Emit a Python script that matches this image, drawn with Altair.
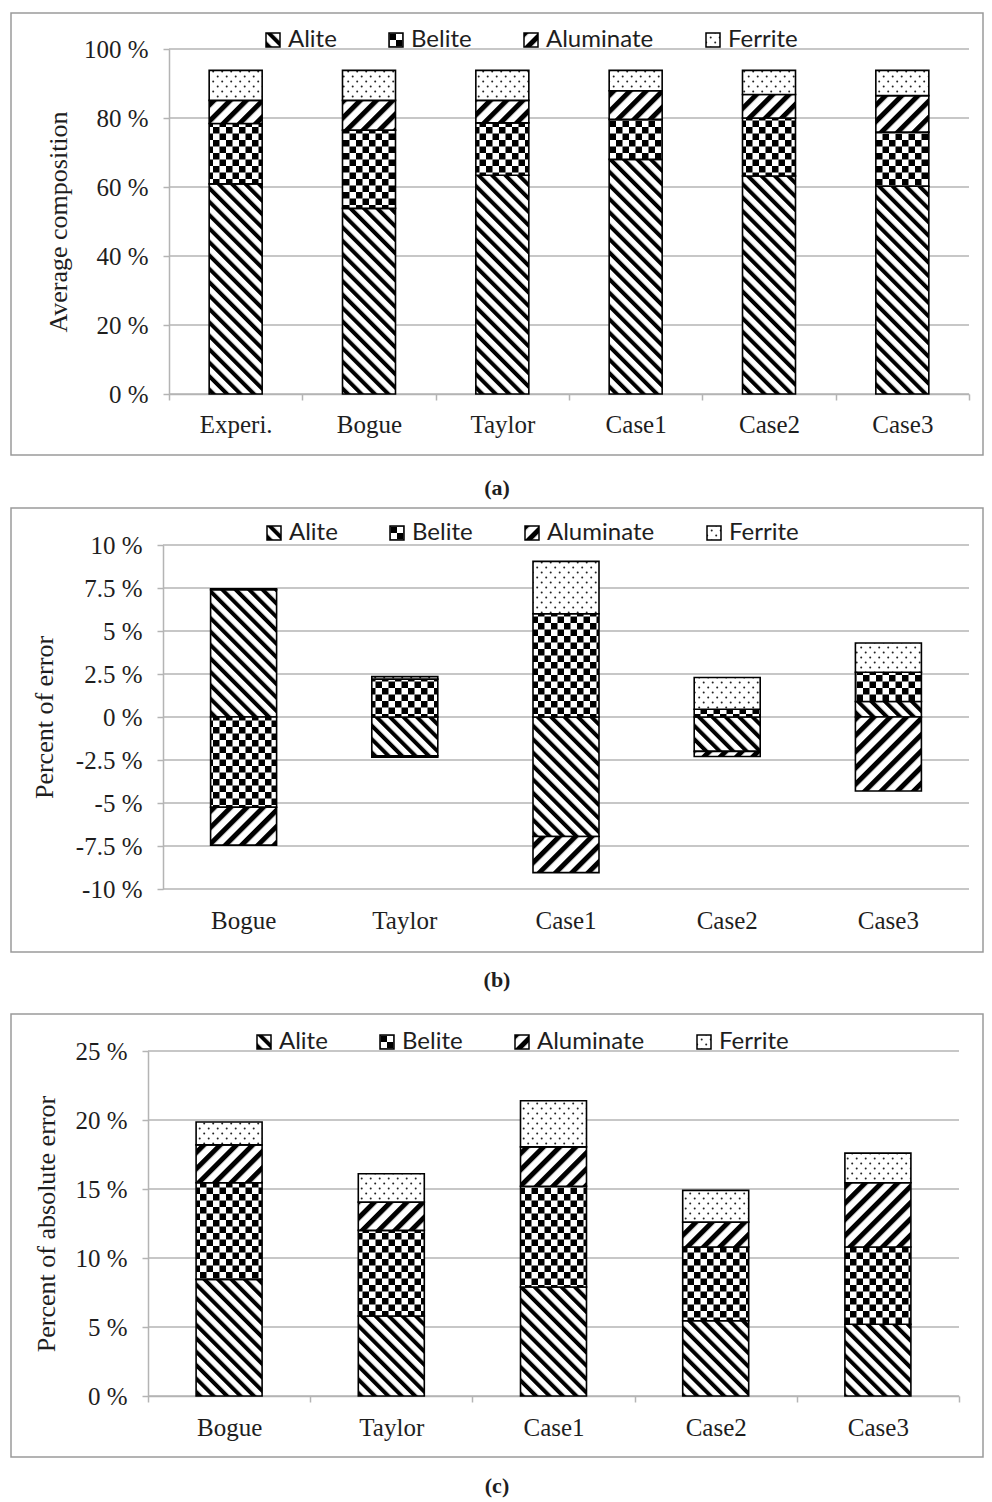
import altair as alt
import pandas as pd

# ---------------- data ----------------
components = ["Alite", "Belite", "Aluminate", "Ferrite"]

cats_a = ["Experi.", "Bogue", "Taylor", "Case1", "Case2", "Case3"]
alite_a = [60.9, 53.8, 63.4, 68.0, 63.2, 60.2]
belite_a = [17.5, 22.7, 15.2, 11.6, 16.8, 15.7]
aluminate_a = [6.7, 8.6, 6.5, 8.3, 6.8, 10.6]
ferrite_a = [8.7, 8.7, 8.7, 5.9, 7.0, 7.3]

cats_bc = ["Bogue", "Taylor", "Case1", "Case2", "Case3"]
alite_b = [7.4, -2.25, -6.95, -2.0, 0.9]
belite_b = [-5.25, 2.2, 6.0, 0.45, 1.7]
aluminate_b = [-2.2, -0.08, -2.1, -0.3, -4.3]
ferrite_b = [0.05, 0.15, 3.05, 1.85, 1.7]

alite_c = [8.45, 5.8, 7.9, 5.45, 5.2]
belite_c = [7.0, 6.2, 7.3, 5.35, 5.6]
aluminate_c = [2.75, 2.05, 2.85, 1.8, 4.65]
ferrite_c = [1.65, 2.05, 3.35, 2.3, 2.15]

ticks_a = [0, 20, 40, 60, 80, 100]
ticks_b = [-10, -7.5, -5, -2.5, 0, 2.5, 5, 7.5, 10]
ticks_c = [0, 5, 10, 15, 20, 25]

# ---------------- styles ----------------
SERIF = "Liberation Serif"
SANS = "Lato"
TXT = "#1e1e1e"
GRID = "#b4b4b4"
FRAME = "#9a9a9a"
PATTERNS = ["url(#pat-alite)", "url(#pat-belite)", "url(#pat-aluminate)", "url(#pat-ferrite)"]

DEFS = """
<svg width="0" height="0" style="position:absolute;left:0;top:0" aria-hidden="true">
 <defs>
  <pattern id="pat-alite" patternUnits="userSpaceOnUse" width="9.5" height="9.5" patternTransform="rotate(-45)">
    <rect width="9.5" height="9.5" fill="#ffffff"/>
    <rect width="4" height="9.5" fill="#000000"/>
  </pattern>
  <pattern id="pat-belite" patternUnits="userSpaceOnUse" width="13" height="13">
    <rect width="13" height="13" fill="#ffffff"/>
    <rect x="0" y="0" width="6.5" height="6.5" fill="#000000"/>
    <rect x="6.5" y="6.5" width="6.5" height="6.5" fill="#000000"/>
  </pattern>
  <pattern id="pat-aluminate" patternUnits="userSpaceOnUse" width="11.5" height="11.5" patternTransform="rotate(45)">
    <rect width="11.5" height="11.5" fill="#ffffff"/>
    <rect width="5" height="11.5" fill="#000000"/>
  </pattern>
  <pattern id="pat-ferrite" patternUnits="userSpaceOnUse" width="9" height="10">
    <rect width="9" height="10" fill="#ffffff"/>
    <circle cx="2.2" cy="2.5" r="1" fill="#222222"/>
    <circle cx="6.7" cy="7.5" r="1" fill="#222222"/>
  </pattern>
 </defs>
</svg>
"""

FRAME_X = (-137, 835)   # frame left/right relative to the common plot origin


def make_panel(cats, series, ytitle, ydom, yticks, shift, plot_w, height, bar_size,
               frame_y, legend_xy, caption, title_pad, xlabel_pad, cap_offset,
               bottom_axis_line=True, cap_extra=0):
    rows = []
    for i, c in enumerate(cats):
        for k, comp in enumerate(components):
            rows.append({"cat": c, "comp": comp, "ord": k, "value": series[k][i]})
    df = pd.DataFrame(rows)
    grid_df = pd.DataFrame({"t": yticks})

    yscale = alt.Scale(domain=ydom, nice=False, zero=False)
    yaxis = alt.Axis(values=yticks, labelExpr="datum.value + ' %'", offset=-shift,
                     title=ytitle, titleFont=SERIF, titleFontSize=26,
                     titleFontWeight="normal", titleColor=TXT, titlePadding=title_pad,
                     labelFont=SERIF, labelFontSize=25, labelColor=TXT,
                     labelPadding=15, tickSize=6, tickColor=GRID, tickWidth=1.5,
                     domainColor=GRID, domainWidth=1.5, grid=False)

    frame = alt.Chart(alt.Data(values=[{"k": 1}])).mark_rect(
        fill="transparent", stroke=FRAME, strokeWidth=1.5
    ).encode(x=alt.value(FRAME_X[0]), x2=alt.value(FRAME_X[1]),
             y=alt.value(frame_y[0]), y2=alt.value(frame_y[1]))

    grid = alt.Chart(grid_df).mark_rule(color=GRID, strokeWidth=1.5).encode(
        y=alt.Y("t:Q", scale=yscale, axis=yaxis),
        x=alt.value(shift), x2=alt.value(shift + plot_w),
    )

    if bottom_axis_line:
        xaxis = alt.Axis(title=None, labelAngle=0, labelFont=SERIF, labelFontSize=25,
                         labelColor=TXT, labelPadding=xlabel_pad, tickBand="extent", tickSize=6,
                         tickColor=GRID, tickWidth=1.5, domainColor=GRID, domainWidth=1.5,
                         grid=False)
    else:
        xaxis = alt.Axis(title=None, labelAngle=0, labelFont=SERIF, labelFontSize=25,
                         labelColor=TXT, labelPadding=xlabel_pad, ticks=False, tickSize=0,
                         domain=False, grid=False)

    bars = alt.Chart(df).mark_bar(stroke="black", strokeWidth=1.6, size=bar_size).encode(
        x=alt.X("cat:N", sort=cats, axis=xaxis,
                scale=alt.Scale(range=[shift, shift + plot_w], paddingInner=0, paddingOuter=0)),
        y=alt.Y("value:Q", stack="zero", scale=yscale, axis=yaxis),
        fill=alt.Fill("comp:N", sort=components,
                      scale=alt.Scale(domain=components, range=PATTERNS),
                      legend=alt.Legend(title=None, orient="none", direction="horizontal",
                                        columns=4, legendX=legend_xy[0], legendY=legend_xy[1],
                                        padding=0, symbolType="square", symbolSize=196,
                                        symbolStrokeColor="black", symbolStrokeWidth=1.5,
                                        labelFont=SANS, labelFontSize=24, labelColor=TXT,
                                        labelOffset=3, columnPadding=47)),
        order=alt.Order("ord:Q"),
    )

    if cap_extra > 0:
        title = alt.TitleParams(caption, orient="bottom", anchor="middle", frame="bounds",
                                font=SERIF, fontSize=22, fontWeight="bold", color=TXT,
                                offset=cap_offset, subtitle=" ", subtitleFontSize=cap_extra,
                                subtitlePadding=2)
    else:
        title = alt.TitleParams(caption, orient="bottom", anchor="middle", frame="bounds",
                                font=SERIF, fontSize=22, fontWeight="bold", color=TXT,
                                offset=cap_offset)

    return alt.layer(frame, grid, bars).properties(
        width=shift + plot_w, height=height, title=title,
    )


pa = make_panel(cats_a, [alite_a, belite_a, aluminate_a, ferrite_a],
                "Average composition", [0, 100], ticks_a, 21, 800, 345, 53,
                (-36, 406), (113, -21), "(a)", 12, 12, 22)
pb = make_panel(cats_bc, [alite_b, belite_b, aluminate_b, ferrite_b],
                "Percent of error", [-10, 10], ticks_b, 15, 806, 344, 66,
                (-37, 407), (114, -24), "(b)", 18, 19, 17,
                bottom_axis_line=False, cap_extra=12)
pc = make_panel(cats_bc, [alite_c, belite_c, aluminate_c, ferrite_c],
                "Percent of absolute error", [0, 25], ticks_c, 0, 811, 345, 66,
                (-37, 406), (104, -21), "(c)", 15, 13, 18)

chart = alt.concat(pa, pb, pc, columns=1, spacing=8).resolve_scale(
    fill="independent", x="independent", y="independent"
).resolve_legend(fill="independent").properties(
    padding={"left": 2, "top": 4, "right": 0, "bottom": 2},
    background="white",
).configure_view(stroke=None)


class PatternTemplate:
    def render(self, **kw):
        from altair.utils.html import HTML_TEMPLATE
        html = HTML_TEMPLATE.render(**kw)
        if "<body>" in html:
            return html.replace("<body>", "<body>\n" + DEFS, 1)
        return DEFS + html


try:
    chart.save("out.html", embed_options={"renderer": "svg", "actions": False},
               template=PatternTemplate())
except Exception:
    chart.save("out.html", embed_options={"renderer": "svg", "actions": False})
